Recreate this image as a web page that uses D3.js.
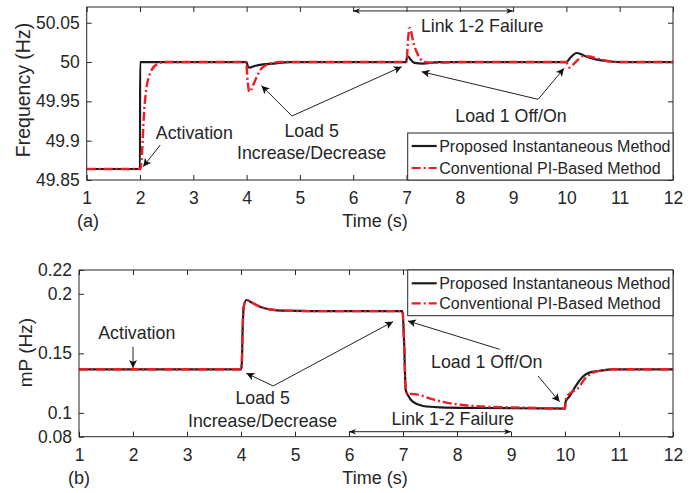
<!DOCTYPE html>
<html>
<head>
<meta charset="utf-8">
<script src="https://cdn.jsdelivr.net/npm/d3@7"></script>
<style>
  html, body { margin: 0; padding: 0; background: #fff; }
  svg { display: block; font-family: "Liberation Sans", Arial, Helvetica, sans-serif; }
</style>
</head>
<body>
<svg id="chart" width="694" height="493"></svg>
<script>
// ---------------- data ----------------
const timeTicks = [1, 2, 3, 4, 5, 6, 7, 8, 9, 10, 11, 12];
const freqTicks = [49.85, 49.9, 49.95, 50, 50.05];
const freqTickLabels = ["49.85", "49.9", "49.95", "50", "50.05"];
const mpTicks = [0.08, 0.1, 0.15, 0.2, 0.22];
const mpTickLabels = ["0.08", "0.1", "0.15", "0.2", "0.22"];
const seriesNames = ["Proposed Instantaneous Method", "Conventional PI-Based Method"];

// Frequency (Hz), [time s, value]
const freqProposed = [
  [1, 49.864], [2.0, 49.864], [2.002, 50], [4.0, 50], [4.02, 49.995], [4.05, 49.993],
  [4.15, 49.995], [4.31, 49.997], [4.5, 49.998], [4.8, 50], [6.99, 50], [7.01, 50.006],
  [7.03, 50.007], [7.08, 50.003], [7.15, 49.999], [7.3, 49.998], [7.6, 50], [10.0, 50],
  [10.08, 50.006], [10.19, 50.0115], [10.28, 50.010], [10.38, 50.0066], [10.57, 50.003],
  [10.76, 50.001], [11, 50], [12, 50]
];
const freqConventional = [
  [1, 49.864], [2.01, 49.864], [2.03, 49.875], [2.05, 49.9], [2.075, 49.934], [2.1, 49.955],
  [2.125, 49.969], [2.17, 49.982], [2.22, 49.99], [2.34, 49.998], [2.46, 50], [3.99, 50],
  [4.02, 49.975], [4.05, 49.962], [4.08, 49.964], [4.125, 49.971], [4.19, 49.981],
  [4.28, 49.992], [4.44, 49.998], [4.63, 50], [7.0, 50], [7.03, 50.03], [7.06, 50.0435],
  [7.09, 50.038], [7.125, 50.026], [7.19, 50.013], [7.25, 50.005], [7.34, 50.0],
  [7.5, 49.999], [8, 50], [10.0, 50], [10.03, 49.995], [10.06, 49.993], [10.13, 49.997],
  [10.22, 50.003], [10.31, 50.0075], [10.44, 50.007], [10.6, 50.004], [10.8, 50.001],
  [11, 50], [12, 50]
];

// mP (Hz), [time s, value]
const mpProposed = [
  [1, 0.1366], [4.0, 0.1366], [4.015, 0.1416], [4.03, 0.1696], [4.05, 0.1892], [4.1, 0.1948],
  [4.2, 0.1926], [4.35, 0.1892], [4.53, 0.187], [4.84, 0.1858], [5.27, 0.1855], [6.99, 0.1855],
  [7.02, 0.16], [7.05, 0.1192], [7.09, 0.115], [7.18, 0.1094], [7.37, 0.1058], [7.68, 0.1047],
  [8.42, 0.1041], [9.5, 0.1038], [10.0, 0.1036], [10.01, 0.1094], [10.08, 0.1136],
  [10.21, 0.1234], [10.33, 0.1304], [10.45, 0.1338], [10.64, 0.1354], [10.89, 0.1366],
  [12, 0.1366]
];
const mpConventional = [
  [1, 0.1366], [4.0, 0.1366], [4.015, 0.1416], [4.03, 0.1696], [4.05, 0.1892], [4.1, 0.1948],
  [4.2, 0.1926], [4.35, 0.1892], [4.53, 0.187], [4.84, 0.1858], [5.27, 0.1855], [6.99, 0.1855],
  [7.02, 0.16], [7.05, 0.1192], [7.09, 0.1158], [7.15, 0.116], [7.31, 0.115], [7.49, 0.1122],
  [7.8, 0.1086], [8.11, 0.1066], [8.54, 0.1052], [9.3, 0.1044], [10.0, 0.1036],
  [10.02, 0.1122], [10.11, 0.117], [10.24, 0.1206], [10.36, 0.1282], [10.52, 0.1338],
  [10.7, 0.1357], [10.95, 0.1366], [12, 0.1366]
];

// annotations (in data coordinates)
const freqNotes = [
  { text: "Activation", t: 3.02, v: 49.9018 },
  { text: "Load 5", t: 5.22, v: 49.9043 },
  { text: "Increase/Decrease", t: 5.22, v: 49.8763 },
  { text: "Load 1 Off/On", t: 8.96, v: 49.9234 },
  { text: "Link 1-2 Failure", t: 8.42, v: 50.0386 }
];
const freqArrows = [
  { from: [2.38, 49.8945], to: [2.06, 49.867] },
  { from: [4.85, 49.9314], to: [4.28, 49.970] },
  { from: [4.85, 49.9314], to: [6.91, 49.994] },
  { from: [9.47, 49.9526], to: [7.285, 49.9877] },
  { from: [9.47, 49.9526], to: [9.955, 49.992] }
];
const freqSpan = { from: [6, 50.065], to: [9, 50.065] };

const mpNotes = [
  { text: "Activation", t: 2.07, v: 0.1621 },
  { text: "Load 5", t: 4.40, v: 0.1075 },
  { text: "Increase/Decrease", t: 4.40, v: 0.0884 },
  { text: "Load 1 Off/On", t: 8.55, v: 0.1375 },
  { text: "Link 1-2 Failure", t: 7.92, v: 0.0898 }
];
const mpArrows = [
  { from: [2.0, 0.1556], to: [2.0, 0.1378] },
  { from: [4.595, 0.1226], to: [4.10, 0.1333] },
  { from: [4.595, 0.1226], to: [6.815, 0.1766] },
  { from: [8.79, 0.1534], to: [7.09, 0.1772] },
  { from: [9.50, 0.131], to: [9.90, 0.1094] }
];
const mpSpan = { from: [6, 0.0842], to: [9, 0.0842] };

// ---------------- drawing ----------------
const svg = d3.select("#chart");
const AX = "#262626";
const RED = "#ee1c25";

const defs = svg.append("defs");
defs.append("marker").attr("id", "ah").attr("viewBox", "0 0 10 10")
  .attr("refX", 10).attr("refY", 5).attr("markerUnits", "userSpaceOnUse")
  .attr("markerWidth", 10).attr("markerHeight", 8).attr("orient", "auto")
  .append("path").attr("d", "M0,0 L10,5 L0,10 L2.5,5 Z").attr("fill", "#111");
defs.append("marker").attr("id", "ahs").attr("viewBox", "0 0 10 10")
  .attr("refX", 10).attr("refY", 5).attr("markerUnits", "userSpaceOnUse")
  .attr("markerWidth", 10).attr("markerHeight", 7).attr("orient", "auto-start-reverse")
  .append("path").attr("d", "M0,1 L10,5 L0,9 L3,5 Z").attr("fill", "#111");

function panel(cfg) {
  const x = d3.scaleLinear().domain([1, 12]).range([cfg.left, cfg.right]);
  const y = d3.scaleLinear().domain(cfg.domain).range([cfg.bottom, cfg.top]);
  const g = svg.append("g");

  const tl = 5;
  g.append("g").attr("transform", `translate(0,${cfg.bottom})`)
    .call(d3.axisBottom(x).tickValues(timeTicks).tickSizeInner(-tl).tickSizeOuter(0).tickPadding(12).tickFormat(d3.format("d")))
    .call(a => { a.select(".domain").remove(); a.selectAll("text").attr("font-size", 17.5).attr("fill", AX); a.selectAll("line").attr("stroke", AX); });
  g.append("g").attr("transform", `translate(0,${cfg.top})`)
    .call(d3.axisTop(x).tickValues(timeTicks).tickSizeInner(-tl).tickSizeOuter(0).tickFormat(""))
    .call(a => { a.select(".domain").remove(); a.selectAll("line").attr("stroke", AX); });
  g.append("g").attr("transform", `translate(${cfg.left},0)`)
    .call(d3.axisLeft(y).tickValues(cfg.ticks).tickSizeInner(-tl).tickSizeOuter(0).tickPadding(7)
      .tickFormat((d, i) => cfg.tickLabels[i]))
    .call(a => { a.select(".domain").remove(); a.selectAll("text").attr("font-size", 17.5).attr("fill", AX); a.selectAll("line").attr("stroke", AX); });
  g.append("g").attr("transform", `translate(${cfg.right},0)`)
    .call(d3.axisRight(y).tickValues(cfg.ticks).tickSizeInner(-tl).tickSizeOuter(0).tickFormat(""))
    .call(a => { a.select(".domain").remove(); a.selectAll("line").attr("stroke", AX); });

  const clipId = "clip" + cfg.id;
  defs.append("clipPath").attr("id", clipId).append("rect")
    .attr("x", cfg.left).attr("y", cfg.top).attr("width", cfg.right - cfg.left).attr("height", cfg.bottom - cfg.top);

  const line = d3.line().x(d => x(d[0])).y(d => y(d[1])).curve(d3.curveMonotoneX);
  const lg = g.append("g").attr("clip-path", `url(#${clipId})`);
  lg.append("path").datum(cfg.black).attr("d", line).attr("fill", "none")
    .attr("stroke", "#1a1a1a").attr("stroke-width", 2.2).attr("stroke-linejoin", "round");
  lg.append("path").datum(cfg.red).attr("d", line).attr("fill", "none")
    .attr("stroke", RED).attr("stroke-width", 2.4).attr("stroke-dasharray", "9,3,2,3");

  g.append("rect").attr("x", cfg.left).attr("y", cfg.top)
    .attr("width", cfg.right - cfg.left).attr("height", cfg.bottom - cfg.top)
    .attr("fill", "none").attr("stroke", AX).attr("stroke-width", 1);

  cfg.notes.forEach(n => {
    g.append("text").attr("x", x(n.t)).attr("y", y(n.v)).attr("text-anchor", "middle")
      .attr("font-size", 17.8).attr("fill", AX).text(n.text);
  });
  cfg.arrows.forEach(a => {
    g.append("line").attr("x1", x(a.from[0])).attr("y1", y(a.from[1]))
      .attr("x2", x(a.to[0])).attr("y2", y(a.to[1]))
      .attr("stroke", "#222").attr("stroke-width", 1).attr("marker-end", "url(#ah)");
  });
  g.append("line").attr("x1", x(cfg.span.from[0])).attr("y1", y(cfg.span.from[1]))
    .attr("x2", x(cfg.span.to[0])).attr("y2", y(cfg.span.to[1]))
    .attr("stroke", "#222").attr("stroke-width", 1)
    .attr("marker-start", "url(#ahs)").attr("marker-end", "url(#ahs)");

  const L = cfg.legend;
  const lgd = g.append("g");
  lgd.append("rect").attr("x", L.x).attr("y", L.y).attr("width", cfg.right - L.x).attr("height", L.h)
    .attr("fill", "#fff").attr("stroke", AX).attr("stroke-width", 1);
  [0, 1].forEach(i => {
    const cy = L.y + L.rows[i];
    lgd.append("line").attr("x1", L.x + 4).attr("x2", L.x + 29).attr("y1", cy).attr("y2", cy)
      .attr("stroke", i === 0 ? "#1a1a1a" : RED).attr("stroke-width", 2.2)
      .attr("stroke-dasharray", i === 0 ? null : "9,3,2,3");
    lgd.append("text").attr("x", L.x + 31.5).attr("y", cy).attr("dy", "0.35em")
      .attr("font-size", 16).attr("fill", AX).text(seriesNames[i]);
  });

  svg.append("text").attr("transform", `translate(${cfg.ylabX},${(cfg.top + cfg.bottom) / 2 + cfg.ylabDy}) rotate(-90)`)
    .attr("text-anchor", "middle").attr("dy", "0.35em").attr("font-size", cfg.ylabSize).attr("fill", AX).text(cfg.ylabel);
  svg.append("text").attr("x", 375).attr("y", cfg.xlabY).attr("text-anchor", "middle")
    .attr("font-size", 18).attr("fill", AX).text("Time (s)");
  svg.append("text").attr("x", cfg.tagX).attr("y", cfg.xlabY).attr("text-anchor", "middle")
    .attr("font-size", 18).attr("fill", AX).text(cfg.tag);
}

panel({
  id: "a", left: 86.7, right: 673, top: 7, bottom: 180, domain: [49.85, 50.07],
  ticks: freqTicks, tickLabels: freqTickLabels,
  black: freqProposed, red: freqConventional,
  notes: freqNotes, arrows: freqArrows, span: freqSpan,
  legend: { x: 407.7, y: 133, h: 47, rows: [13, 35] },
  ylabel: "Frequency (Hz)", ylabX: 23, ylabDy: -3.5, ylabSize: 19.5, xlabY: 227, tag: "(a)", tagX: 88
});
panel({
  id: "b", left: 79, right: 673, top: 270, bottom: 436.7, domain: [0.08, 0.22],
  ticks: mpTicks, tickLabels: mpTickLabels,
  black: mpProposed, red: mpConventional,
  notes: mpNotes, arrows: mpArrows, span: mpSpan,
  legend: { x: 407.7, y: 270, h: 45.7, rows: [13.3, 33.3] },
  ylabel: "mP (Hz)", ylabX: 25, ylabDy: -0.8, ylabSize: 19, xlabY: 484, tag: "(b)", tagX: 79
});
</script>
</body>
</html>
